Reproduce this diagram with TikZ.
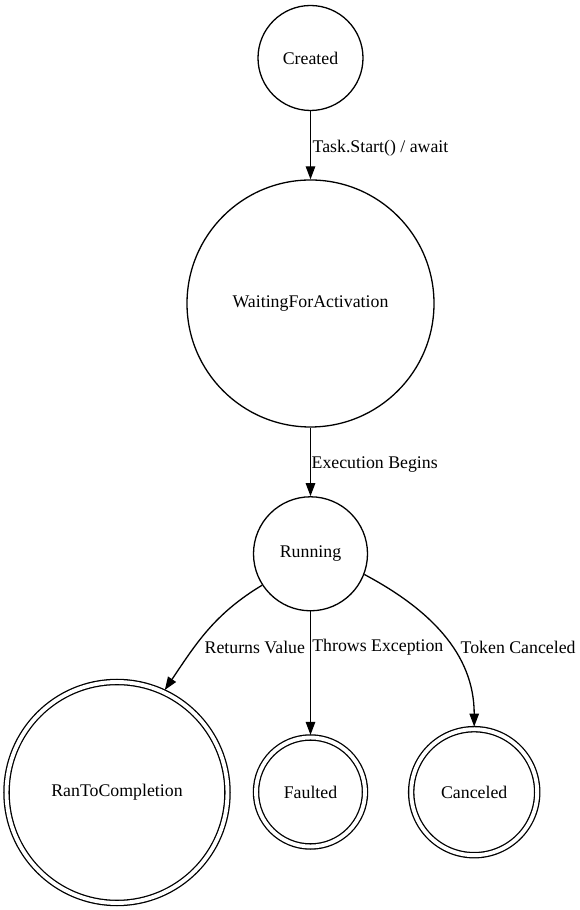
\documentclass[tikz,border=0pt]{standalone}
\usepackage{fontspec}
\setmainfont{Liberation Serif}
\usetikzlibrary{arrows.meta}

\begin{document}
\begin{tikzpicture}[x=1pt, y=1pt, line width=1.3pt, >={Triangle[length=13pt, width=9.5pt]},
  every node/.style={font=\fontsize{17.8}{21}\selectfont},
  state/.style={draw, circle, inner sep=0pt},
  final/.style={draw, circle, inner sep=0pt, double, double distance=3.9pt, outer sep=2.6pt},
  lbl/.style={anchor=west, inner sep=0pt}]
\useasboundingbox (0, 0) rectangle (579, 910);

\node [state, minimum size=105pt] (created) at (310.5, 852) {Created};
\node [state, minimum size=247pt] (waiting) at (310.5, 606.5) {WaitingForActivation};
\node [state, minimum size=114pt] (running) at (310.5, 356.2) {Running};
\node [final, minimum size=221pt] (ranto) at (117, 117.5) {RanToCompletion};
\node [final, minimum size=109pt] (faulted) at (310.5, 118) {Faulted};
\node [final, minimum size=126pt] (canceled) at (474.2, 117.8) {Canceled};

\draw [->] (created) -- (waiting);
\draw [->] (waiting) -- (running);
\draw [->] (running.213) to [out=211, in=56] (ranto.65);
\draw [->] (running) -- (faulted);
\draw [->] (running.339) to [out=332, in=90] (canceled.90);

\node [lbl] (lstart) at (312, 761.5) {Task.Start() / await};
\node [lbl] (lexec) at (311, 445.5) {Execution Begins};
\node [lbl] (lret) at (204, 263) {Returns Value};
\node [lbl] (lthrow) at (311.7, 263) {Throws Exception};
\node [lbl] (ltoken) at (460, 263) {Token Canceled};
\end{tikzpicture}
\end{document}
